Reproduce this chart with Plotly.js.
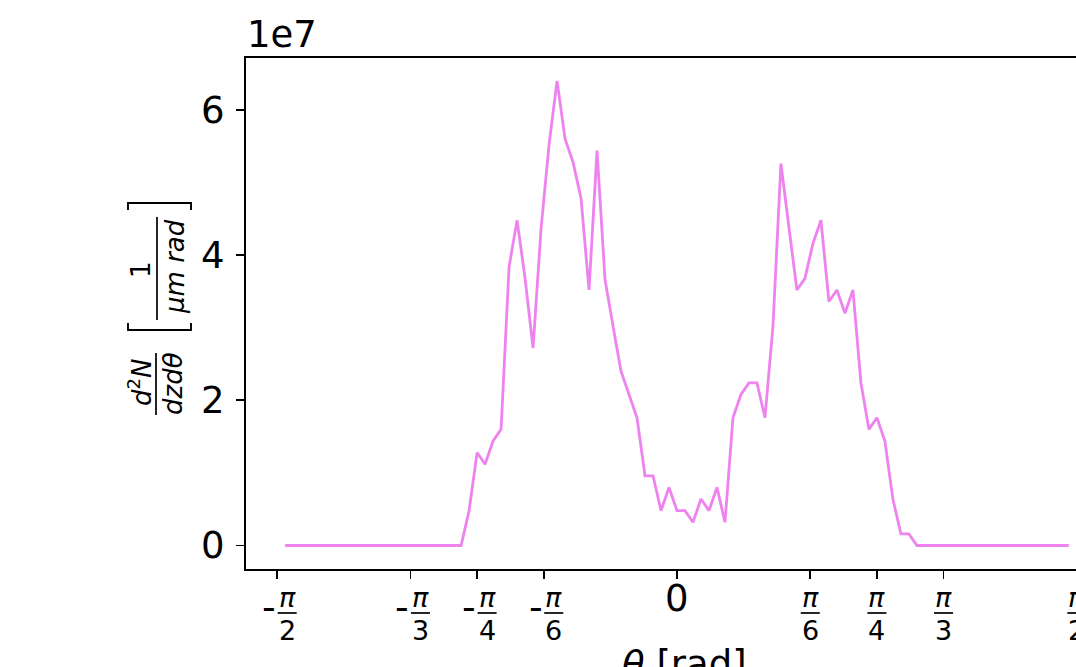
<!DOCTYPE html>
<html>
<head>
<meta charset="utf-8">
<script src="https://cdn.plot.ly/plotly-3.0.1.min.js"></script>
<style>
html, body { margin: 0; padding: 0; overflow: hidden; background: #fff; }
#chart { width: 1150px; height: 667px; }
</style>
</head>
<body>
<div id="chart"></div>
<script>
// theta bin centres [rad]
const theta = [
 -1.5394,-1.5080,-1.4765,-1.4451,-1.4137,-1.3823,-1.3509,-1.3195,-1.2881,-1.2566,
 -1.2252,-1.1938,-1.1624,-1.1310,-1.0996,-1.0681,-1.0367,-1.0053,-0.9739,-0.9425,
 -0.9111,-0.8796,-0.8482,-0.8168,-0.7854,-0.7540,-0.7226,-0.6912,-0.6597,-0.6283,
 -0.5969,-0.5655,-0.5341,-0.5027,-0.4712,-0.4398,-0.4084,-0.3770,-0.3456,-0.3142,
 -0.2827,-0.2513,-0.2199,-0.1885,-0.1571,-0.1257,-0.0942,-0.0628,-0.0314, 0.0000,
  0.0314, 0.0628, 0.0942, 0.1257, 0.1571, 0.1885, 0.2199, 0.2513, 0.2827, 0.3142,
  0.3456, 0.3770, 0.4084, 0.4398, 0.4712, 0.5027, 0.5341, 0.5655, 0.5969, 0.6283,
  0.6597, 0.6912, 0.7226, 0.7540, 0.7854, 0.8168, 0.8482, 0.8796, 0.9111, 0.9425,
  0.9739, 1.0053, 1.0367, 1.0681, 1.0996, 1.1310, 1.1624, 1.1938, 1.2252, 1.2566,
  1.2881, 1.3195, 1.3509, 1.3823, 1.4137, 1.4451, 1.4765, 1.5080, 1.5394
];
// d2N/dz dtheta values [1/(um rad)]
const d2N = [
 0,0,0,0,0,0,0,0,0,0,
 0,0,0,0,0,0,0,0,0,0,
 0,0,0,0.48e7,1.28e7,1.12e7,1.44e7,1.60e7,3.84e7,4.48e7,
 3.68e7,2.72e7,4.36e7,5.52e7,6.40e7,5.60e7,5.28e7,4.78e7,3.52e7,5.44e7,
 3.66e7,3.02e7,2.40e7,2.08e7,1.76e7,0.96e7,0.96e7,0.48e7,0.80e7,0.48e7,
 0.48e7,0.32e7,0.64e7,0.48e7,0.80e7,0.32e7,1.76e7,2.08e7,2.24e7,2.24e7,
 1.76e7,3.02e7,5.26e7,4.38e7,3.52e7,3.68e7,4.16e7,4.48e7,3.36e7,3.52e7,
 3.20e7,3.52e7,2.24e7,1.60e7,1.76e7,1.44e7,0.64e7,0.16e7,0.16e7,0,
 0,0,0,0,0,0,0,0,0,0,
 0,0,0,0,0,0,0,0,0
];
// x tick positions and labels (fractions of pi)
const xTickVals = [-Math.PI/2, -Math.PI/3, -Math.PI/4, -Math.PI/6, 0, Math.PI/6, Math.PI/4, Math.PI/3, Math.PI/2];
const xTickDen = ['2','3','4','6','','6','4','3','2'];
// y ticks
const yTickVals = [0, 2e7, 4e7, 6e7];
const yTickText = ['0','2','4','6'];

const FONT = 'DejaVu Sans';
const L = 246, R = 1108, T = 58, B = 569;
const px = v => (v - L) / (R - L);
const py = v => (B - v) / (B - T);

const annotations = [];
const shapes = [];

// x tick labels
xTickVals.forEach((v, i) => {
  const den = xTickDen[i];
  if (den === '') {
    annotations.push({text:'0', xref:'x', x:v, yref:'paper', y:py(598), xanchor:'center', yanchor:'middle',
      showarrow:false, font:{family:FONT, size:37, color:'black'}});
    return;
  }
  const sh = v < 0 ? 10 : 0;
  annotations.push({text:'<i>π</i>', xref:'x', x:v, xshift:sh, yref:'paper', y:py(597), xanchor:'center', yanchor:'middle',
    showarrow:false, font:{family:FONT, size:27, color:'black'}});
  annotations.push({text:den, xref:'x', x:v, xshift:sh, yref:'paper', y:py(630), xanchor:'center', yanchor:'middle',
    showarrow:false, font:{family:FONT, size:27, color:'black'}});
  shapes.push({type:'line', xref:'x', xsizemode:'pixel', xanchor:v, x0:sh-9.5, x1:sh+9.5,
    yref:'paper', y0:py(613), y1:py(613), line:{color:'black', width:1.7}});
  if (v < 0) {
    annotations.push({text:'-', xref:'x', x:v, xshift:-8, yref:'paper', y:py(607), xanchor:'center', yanchor:'middle',
      showarrow:false, font:{family:FONT, size:38, color:'black'}});
  }
});

// x axis title
annotations.push({text:'<i>θ</i> [rad]', xref:'paper', x:px(684), yref:'paper', y:py(664), xanchor:'center', yanchor:'middle',
  showarrow:false, font:{family:FONT, size:37, color:'black'}});

// offset text
annotations.push({text:'1e7', xref:'paper', x:px(245), yref:'paper', y:py(34), xanchor:'left', yanchor:'middle',
  showarrow:false, font:{family:FONT, size:37, color:'black'}});

// y axis label (rotated fractions)
const yl = (text, cx, cy) => annotations.push({text, xref:'paper', x:px(cx), yref:'paper', y:py(cy), xanchor:'center', yanchor:'middle',
  textangle:-90, showarrow:false, font:{family:FONT, size:26, color:'black'}});
yl('<i>d</i><sup>2</sup><i>N</i>', 140, 382);
yl('<i>dzdθ</i>', 173, 384);
yl('1', 141, 270);
yl('<i>μm rad</i>', 175, 267);
shapes.push({type:'line', xref:'paper', yref:'paper', x0:px(156), x1:px(156), y0:py(353), y1:py(415), line:{color:'black', width:1.7}});
shapes.push({type:'line', xref:'paper', yref:'paper', x0:px(157), x1:px(157), y0:py(217), y1:py(320), line:{color:'black', width:1.7}});
const pth = pts => 'M ' + pts.map(p => px(p[0]) + ' ' + py(p[1])).join(' L ');
shapes.push({type:'path', xref:'paper', yref:'paper', path:pth([[128,323],[128,330],[191,330],[191,323]]), line:{color:'black', width:1.9}});
shapes.push({type:'path', xref:'paper', yref:'paper', path:pth([[128,210],[128,203],[191,203],[191,210]]), line:{color:'black', width:1.9}});

const trace = {
  x: theta, y: d2N, type:'scatter', mode:'lines',
  line:{color:'#EE82EE', width:2.8}, hoverinfo:'skip'
};

const layout = {
  width:1150, height:667,
  margin:{l:L, r:1150-R, t:T, b:667-B, pad:0},
  paper_bgcolor:'white', plot_bgcolor:'white',
  showlegend:false,
  xaxis:{
    range:[-1.6933, 1.6933], tickvals:xTickVals, showticklabels:false,
    ticks:'outside', ticklen:8, tickwidth:1.6, tickcolor:'black',
    showline:true, linecolor:'black', linewidth:2, mirror:true,
    showgrid:false, zeroline:false
  },
  yaxis:{
    range:[-0.3237e7, 6.715e7], tickvals:yTickVals, ticktext:yTickText,
    ticks:'outside', ticklen:8, tickwidth:1.6, tickcolor:'black',
    tickfont:{family:FONT, size:37, color:'black'}, ticklabelstandoff:4,
    showline:true, linecolor:'black', linewidth:2, mirror:true,
    showgrid:false, zeroline:false
  },
  annotations, shapes
};

Plotly.newPlot('chart', [trace], layout, {displayModeBar:false, staticPlot:true});
</script>
</body>
</html>
